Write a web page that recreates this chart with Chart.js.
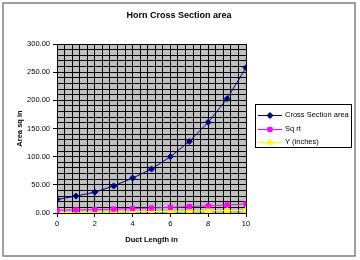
<!DOCTYPE html>
<html>
<head>
<meta charset="utf-8">
<script src="https://cdn.jsdelivr.net/npm/chart.js@4"></script>
<style>
  html, body { margin: 0; padding: 0; background: #fff; }
  #wrap { width: 360px; height: 260px; }
</style>
</head>
<body>
<div id="wrap"><canvas id="hornChart" width="360" height="260"></canvas></div>
<script>
// Horn data
const ductLength = [0, 1, 2, 3, 4, 5, 6, 7, 8, 9, 10];
const crossSection = [24, 30, 37, 48, 62, 78, 100, 127, 161, 203, 258];
const sqrtArea = [4.9, 5.5, 6.1, 6.9, 7.9, 8.8, 10, 11.3, 12.7, 14.2, 16.1];
const yInches = [1, 1.3, 1.6, 1.9, 2.2, 2.6, 3, 3.4, 3.9, 4.4, 5];
const seriesNames = ["Cross Section area", "Sq rt", "Y (inches)"];
const chartTitle = "Horn Cross Section area";
const xTitle = "Duct Length in";
const yTitle = "Area sq in";

const FONT = "'Liberation Sans', Arial, sans-serif";

function pts(ys) {
    return ductLength.map(function (x, i) { return { x: x, y: ys[i] }; });
}

const styles = [
    { color: "#000080", shape: "rectRot", r: 3 },
    { color: "#ff00ff", shape: "rect", r: 3 },
    { color: "#ffff00", shape: "triangle", r: 3.5 }
];

// grey plot background, titles, outer border, legend box
const decor = {
    id: "decor",
    beforeDraw: function (chart) {
        const c = chart.ctx, a = chart.chartArea;
        c.save();
        c.fillStyle = "#c0c0c0";
        c.fillRect(a.left, a.top, a.right - a.left, a.bottom - a.top);
        c.restore();
    },
    afterDraw: function (chart) {
        const c = chart.ctx, a = chart.chartArea;
        c.save();
        c.strokeStyle = "#808080";
        c.lineWidth = 1.5;
        c.strokeRect(3, 3, 352, 253);

        c.fillStyle = "#000";
        c.textAlign = "center";
        c.textBaseline = "middle";
        c.font = "bold 9px " + FONT;
        c.fillText(chartTitle, 179, 16);
        c.font = "bold 7.5px " + FONT;
        c.fillText(xTitle, (a.left + a.right) / 2, 240);
        c.save();
        c.translate(20, (a.top + a.bottom) / 2);
        c.rotate(-Math.PI / 2);
        c.fillText(yTitle, 0, 0);
        c.restore();

        c.fillStyle = "#fff";
        c.fillRect(255, 104, 96, 43);
        c.strokeStyle = "#000";
        c.lineWidth = 1;
        c.strokeRect(255.5, 104.5, 96, 43);

        c.font = "7.5px " + FONT;
        c.textAlign = "left";
        const rows = [115, 129, 142];
        seriesNames.forEach(function (name, i) {
            const y = rows[i];
            c.strokeStyle = styles[i].color;
            c.fillStyle = styles[i].color;
            c.beginPath();
            c.moveTo(258, y + 0.5);
            c.lineTo(282, y + 0.5);
            c.stroke();
            Chart.helpers.drawPoint(c, {
                pointStyle: styles[i].shape, radius: styles[i].r, borderWidth: 1
            }, 270, y + 0.5);
            c.fillStyle = "#000";
            c.fillText(name, 285, y);
        });
        c.restore();
    }
};

new Chart(document.getElementById("hornChart").getContext("2d"), {
    type: "scatter",
    data: {
        datasets: [crossSection, sqrtArea, yInches].map(function (ys, i) {
            return {
                label: seriesNames[i],
                data: pts(ys),
                showLine: true,
                borderColor: styles[i].color,
                borderWidth: 1,
                backgroundColor: styles[i].color,
                pointBorderColor: styles[i].color,
                pointBackgroundColor: styles[i].color,
                pointStyle: styles[i].shape,
                pointRadius: styles[i].r,
                pointBorderWidth: 1,
                tension: 0
            };
        })
    },
    options: {
        responsive: false,
        animation: false,
        layout: { padding: { left: 0, right: 114, top: 44, bottom: 0 } },
        plugins: {
            legend: { display: false },
            tooltip: { enabled: false },
            title: { display: false }
        },
        scales: {
            x: {
                type: "linear",
                min: 0,
                max: 10,
                afterFit: function (s) { s.height = 47; },
                ticks: {
                    stepSize: 0.4,
                    autoSkip: false,
                    maxRotation: 0,
                    color: "#000",
                    font: { family: FONT, size: 7.5 },
                    padding: 2,
                    callback: function (v) {
                        const r = Math.round(v);
                        return (Math.abs(v - r) < 1e-6 && r % 2 === 0) ? String(r) : "";
                    }
                },
                grid: {
                    color: "#000",
                    lineWidth: 1,
                    tickLength: 4,
                    tickColor: function (ctx) {
                        const v = ctx.tick ? ctx.tick.value : 0;
                        const r = Math.round(v);
                        return (Math.abs(v - r) < 1e-6 && r % 2 === 0) ? "#000" : "rgba(0,0,0,0)";
                    }
                },
                border: { color: "#000" }
            },
            y: {
                min: 0,
                max: 300,
                afterFit: function (s) { s.width = 57; },
                ticks: {
                    stepSize: 10,
                    autoSkip: false,
                    color: "#000",
                    font: { family: FONT, size: 7.5 },
                    padding: 3,
                    callback: function (v) {
                        return v % 50 === 0 ? v.toFixed(2) : "";
                    }
                },
                grid: {
                    color: "#000",
                    lineWidth: 1,
                    tickLength: 4,
                    tickColor: function (ctx) {
                        const v = ctx.tick ? ctx.tick.value : 0;
                        return v % 50 === 0 ? "#000" : "rgba(0,0,0,0)";
                    }
                },
                border: { color: "#000" }
            }
        }
    },
    plugins: [decor]
});
</script>
</body>
</html>
